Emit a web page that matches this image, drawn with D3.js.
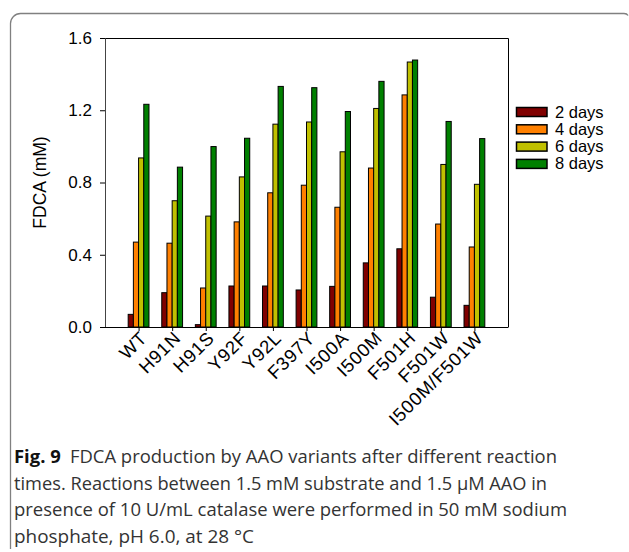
<!DOCTYPE html>
<html>
<head>
<meta charset="utf-8">
<script src="https://cdn.jsdelivr.net/npm/d3@7/dist/d3.min.js"></script>
<style>
  body { margin: 0; background: #fff; }
  svg { display: block; }
</style>
</head>
<body>
<div id="chart"></div>
<script>
var variants = ['WT', 'H91N', 'H91S', 'Y92F', 'Y92L', 'F397Y', 'I500A', 'I500M', 'F501H', 'F501W', 'I500M/F501W'];
var seriesNames = ['2 days', '4 days', '6 days', '8 days'];
var days2 = [0.07, 0.19, 0.013, 0.227, 0.227, 0.205, 0.225, 0.355, 0.433, 0.165, 0.12];
var days4 = [0.47, 0.464, 0.216, 0.582, 0.743, 0.785, 0.663, 0.88, 1.285, 0.57, 0.443];
var days6 = [0.936, 0.699, 0.614, 0.831, 1.123, 1.135, 0.97, 1.21, 1.467, 0.9, 0.79];
var days8 = [1.233, 0.885, 0.999, 1.045, 1.332, 1.325, 1.193, 1.36, 1.478, 1.138, 1.043];
var yTicks = [0, 0.4, 0.8, 1.2, 1.6];
var colors = ['#800000', '#ff8000', '#c0c000', '#008000'];
var captionLines = [
  'times. Reactions between 1.5 mM substrate and 1.5 \u00b5M AAO in',
  'presence of 10 U/mL catalase were performed in 50 mM sodium',
  'phosphate, pH 6.0, at 28 \u00b0C'
];

var W = 629, H = 552;
var pl = 105, pr = 508, pt = 38, pb = 327;
var series = [days2, days4, days6, days8];
var font = 'Liberation Sans, Arial, sans-serif';

var svg = d3.select('#chart').append('svg').attr('width', W).attr('height', H);

// figure frame
svg.append('path')
  .attr('d', 'M10.5,549 V23.5 A10,10 0 0 1 20.5,13.5 H624 q3,0 4,2')
  .attr('fill', 'none').attr('stroke', '#808080').attr('stroke-width', 1.3);

var x = d3.scalePoint().domain(variants).range([pl, pr]).padding(1);
var y = d3.scaleLinear().domain([0, 1.6]).range([pb, pt]);
var barW = 5.2;
var xs = d3.scaleBand().domain(d3.range(4)).range([-2 * barW, 2 * barW]);

var g = svg.append('g');

// plot frame top/right
g.append('path')
  .attr('d', 'M' + pl + ',' + (pt + 0.5) + ' H' + (pr + 0.5) + ' V' + pb)
  .attr('fill', 'none').attr('stroke', '#000').attr('stroke-width', 1);

series.forEach(function(vals, s){
  g.selectAll('rect.s' + s).data(vals).enter().append('rect')
    .attr('class', 's' + s)
    .attr('x', function(d, i){ return x(variants[i]) + xs(s); })
    .attr('y', function(d){ return y(d); })
    .attr('width', xs.bandwidth())
    .attr('height', function(d){ return y(0) - y(d); })
    .attr('fill', colors[s])
    .attr('stroke', '#000').attr('stroke-width', 1);
});

var yAxis = g.append('g').attr('transform', 'translate(' + pl + ',0)')
  .call(d3.axisLeft(y).tickValues(yTicks).tickSize(5).tickPadding(8).tickFormat(d3.format('.1f')));
yAxis.selectAll('text').attr('font-family', font).attr('font-size', 17).attr('fill', '#000');
yAxis.select('.domain').attr('stroke', '#444');

var xAxis = g.append('g').attr('transform', 'translate(0,' + pb + ')')
  .call(d3.axisBottom(x).tickSize(4).tickSizeOuter(0));
xAxis.select('.domain').attr('d', 'M' + pl + ',0.5H' + (pr + 0.5)).attr('stroke', '#000');
xAxis.selectAll('text')
  .attr('font-family', font).attr('font-size', 18.5).attr('fill', '#000')
  .attr('letter-spacing', 0.7)
  .attr('text-anchor', 'end')
  .attr('transform', 'translate(0,3) rotate(-45)')
  .attr('dy', '0.7em').attr('y', 0).attr('x', 0);

svg.append('text')
  .attr('transform', 'translate(46,' + ((pt + pb) / 2) + ') rotate(-90)')
  .attr('text-anchor', 'middle')
  .attr('font-family', font).attr('font-size', 17.5)
  .text('FDCA (mM)');

// legend
var legend = svg.append('g').attr('transform', 'translate(516,107)');
seriesNames.forEach(function(name, i){
  var row = legend.append('g').attr('transform', 'translate(0,' + (i * 17.3) + ')');
  row.append('rect').attr('x', 0.5).attr('y', 0.5).attr('width', 30.5).attr('height', 9)
    .attr('fill', colors[i]).attr('stroke', '#000').attr('stroke-width', 1.5);
  row.append('text').attr('x', 39).attr('y', 10.5)
    .attr('font-family', font).attr('font-size', 16.5)
    .text(name);
});

// caption
var cap = svg.append('g').attr('font-family', 'Open Sans, Noto Sans, sans-serif').attr('font-size', 18).attr('fill', '#333');
var l1 = cap.append('text').attr('x', 14).attr('y', 463).attr('textLength', 543).attr('lengthAdjust', 'spacingAndGlyphs');
l1.append('tspan').attr('font-weight', 'bold').attr('fill', '#111').text('Fig. 9');
l1.append('tspan').text('\u2002FDCA production by AAO variants after different reaction');
var lens = [533, 553, 240];
captionLines.forEach(function(t, i){
  cap.append('text').attr('x', 14).attr('y', 489.5 + i * 26.5)
    .attr('textLength', lens[i]).attr('lengthAdjust', 'spacingAndGlyphs')
    .text(t);
});
</script>
</body>
</html>
